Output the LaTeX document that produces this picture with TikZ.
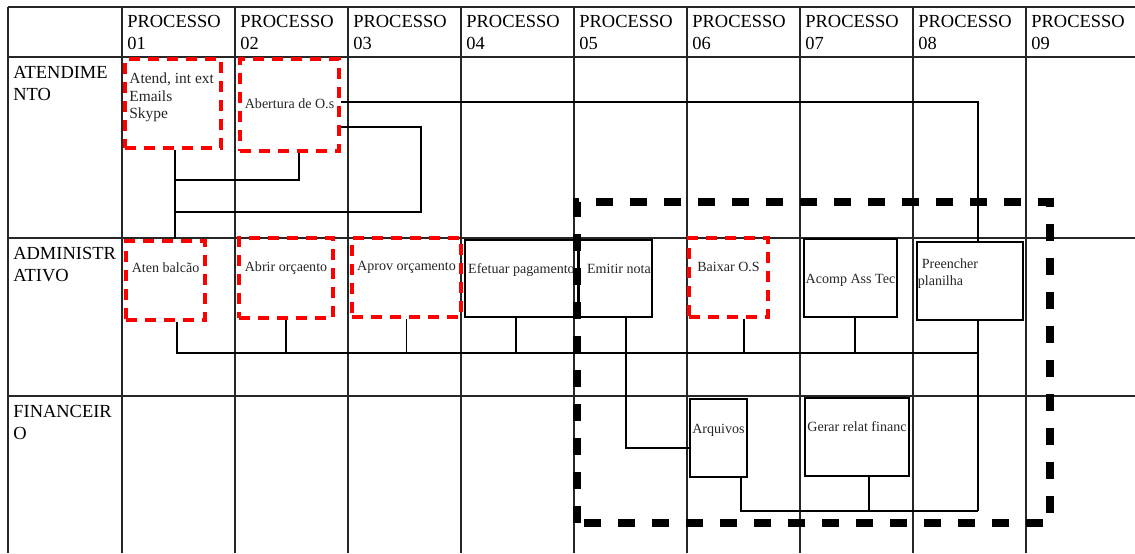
\documentclass[tikz,border=0pt]{standalone}
\usepackage{fontspec}
\setmainfont{Liberation Serif}
\usetikzlibrary{positioning}

\begin{document}
\begin{tikzpicture}[font=\rmfamily]

% ---- Define Styles ----
\tikzset{
  tabline/.style={draw=black!85, line width=0.6pt},
  header/.style={
    anchor=north west, align=left, inner sep=0pt,
    font=\fontsize{10.5}{12.5}\selectfont
  },
  redbox/.style={
    draw=red, line width=2.3pt, dash pattern=on 0.22cm off 0.16cm,
    anchor=south west, inner sep=0pt
  },
  plainbox/.style={
    draw=black, line width=1.1pt, anchor=south west, inner sep=0pt
  },
  boxtext/.style={
    font=\fontsize{8}{10}\selectfont, inner sep=0pt,
    text height=0.2cm, text depth=0cm, text=black!85
  },
  conn/.style={draw=black, line width=0.8pt},
  groupline/.style={draw=black, line width=4.4pt, dash pattern=on 0.34cm off 0.34cm}
}

\useasboundingbox (0,0) rectangle (22.7,11.06);

% =========================================================
% TABLE: header row + three lanes
% Columns 2.26 cm wide, starting at x = 2.44
% =========================================================
\draw[tabline]
  (0.16,10.92) -- (22.7,10.92)
  (0.16,9.92) -- (22.7,9.92)
  (0.16,6.30) -- (22.7,6.30)
  (0.16,3.14) -- (22.7,3.14)
  (0.16,10.92) -- (0.16,0)
  (2.44,10.92) -- (2.44,0)
  (4.70,10.92) -- (4.70,0)
  (6.96,10.92) -- (6.96,0)
  (9.22,10.92) -- (9.22,0)
  (11.48,10.92) -- (11.48,0)
  (13.74,10.92) -- (13.74,0)
  (16.00,10.92) -- (16.00,0)
  (18.26,10.92) -- (18.26,0)
  (20.52,10.92) -- (20.52,0);

\node[header] (p01) at (2.54, 10.76) {PROCESSO\\01};
\node[header] (p02) at (4.80, 10.76) {PROCESSO\\02};
\node[header] (p03) at (7.06, 10.76) {PROCESSO\\03};
\node[header] (p04) at (9.32, 10.76) {PROCESSO\\04};
\node[header] (p05) at (11.58, 10.76) {PROCESSO\\05};
\node[header] (p06) at (13.84, 10.76) {PROCESSO\\06};
\node[header] (p07) at (16.10, 10.76) {PROCESSO\\07};
\node[header] (p08) at (18.36, 10.76) {PROCESSO\\08};
\node[header] (p09) at (20.62, 10.76) {PROCESSO\\09};

\node[header] (laneat) at (0.26, 9.74) {ATENDIME\\NTO};
\node[header] (lanead) at (0.26, 6.12) {ADMINISTR\\ATIVO};
\node[header] (lanefi) at (0.26, 2.96) {FINANCEIR\\O};

% =========================================================
% ATENDIMENTO lane
% =========================================================
\node[redbox, minimum width=1.92cm, minimum height=1.78cm] (atend) at (2.46, 8.06) {};
\node[redbox, minimum width=1.98cm, minimum height=1.84cm] (abert) at (4.76, 8.00) {};

\node[below right=0.31cm and 0.12cm of atend.north west, anchor=north west, align=left,
      inner sep=0pt, font=\fontsize{8.8}{10}\selectfont, text=black!85] (atendtxt) {Atend, int ext\\Emails\\Skype};
\node[boxtext, below=0.82cm of abert.north] (aberttxt) {Abertura de O.s};

% =========================================================
% ADMINISTRATIVO lane
% =========================================================
\node[redbox, minimum width=1.58cm, minimum height=1.58cm] (atenb) at (2.48, 4.62) {};
\node[redbox, minimum width=1.88cm, minimum height=1.60cm] (abrir) at (4.74, 4.66) {};
\node[redbox, minimum width=2.18cm, minimum height=1.58cm] (aprov) at (7.00, 4.68) {};
\node[plainbox, minimum width=2.26cm, minimum height=1.54cm] (efet) at (9.28, 4.70) {};
\node[plainbox, minimum width=1.46cm, minimum height=1.54cm] (emit) at (11.56, 4.70) {};
\node[redbox, minimum width=1.58cm, minimum height=1.58cm] (baix) at (13.74, 4.68) {};
\node[plainbox, minimum width=1.86cm, minimum height=1.56cm] (acomp) at (16.06, 4.70) {};
\node[plainbox, minimum width=2.12cm, minimum height=1.56cm] (preen) at (18.32, 4.64) {};

\node[boxtext, below=0.46cm of atenb.north] (atenbtxt) {Aten balcão};
\node[boxtext, below=0.50cm of abrir.north] (abrirtxt) {Abrir orçaento};
\node[boxtext, below=0.48cm of aprov.north] (aprovtxt) {Aprov orçamento};
\node[boxtext, below=0.48cm of efet.north] (efettxt) {Efetuar pagamento};
\node[boxtext, below=0.48cm of emit.north, xshift=0.07cm] (emittxt) {Emitir nota};
\node[boxtext, below=0.50cm of baix.north] (baixtxt) {Baixar O.S};
\node[boxtext, below=0.70cm of acomp.north] (acomptxt) {Acomp Ass Tec};
\node[below right=0.34cm and 0.03cm of preen.north west, anchor=north west, align=left,
      inner sep=0pt, font=\fontsize{8}{9.6}\selectfont, text=black!85] (preentxt) {\hspace*{0.08cm}Preencher\\planilha};

% =========================================================
% FINANCEIRO lane
% =========================================================
\node[plainbox, minimum width=1.14cm, minimum height=1.56cm] (arq) at (13.78, 1.50) {};
\node[plainbox, minimum width=2.08cm, minimum height=1.56cm] (gerar) at (16.08, 1.52) {};

\node[boxtext, below=0.50cm of arq.north] (arqtxt) {Arquivos};
\node[boxtext, below=0.48cm of gerar.north] (gerartxt) {Gerar relat financ};

% =========================================================
% CONNECTORS
% Drop points sit a little off the box centres, as in the sketch
% =========================================================
\coordinate (busadm) at (0, 4.00);
\coordinate (busfin) at (0, 0.84);
\coordinate (atendd) at ([xshift=0.04cm]atend.south);
\coordinate (abertd) at ([xshift=0.19cm]abert.south);
\coordinate (atenbd) at ([xshift=0.23cm]atenb.south);
\coordinate (efetd)  at ([xshift=-0.11cm]efet.south);
\coordinate (emitd)  at ([xshift=0.21cm]emit.south);
\coordinate (baixd)  at ([xshift=0.31cm]baix.south);
\coordinate (acompd) at ([xshift=0.09cm]acomp.south);
\coordinate (preenu) at ([xshift=0.16cm]preen.north);
\coordinate (preend) at ([xshift=0.16cm]preen.south);
\coordinate (arqd)   at ([xshift=0.45cm]arq.south);
\coordinate (gerard) at ([xshift=0.24cm]gerar.south);

% atendimento
\draw[conn] (atendd) -- (atendd |- atenb.north);
\draw[conn] (abertd) -- ++(0,-0.54) -| (atendd);
\draw[conn] ([yshift=-0.44cm]abert.east) -- ++(1.6,0) |- ([yshift=-1.24cm]atendd);
\draw[conn] ([yshift=0.06cm]abert.east) -| (preenu);

% administrativo
\draw[conn] (atenbd) |- (preend |- busadm);
\draw[conn] (abrir.south) -- (abrir.south |- busadm);
\draw[conn] (aprov.south) -- (aprov.south |- busadm);
\draw[conn] (efetd) -- (efetd |- busadm);
\draw[conn] (emitd) |- ([yshift=-0.2cm]arq.west);
\draw[conn] (baixd) -- (baixd |- busadm);
\draw[conn] (acompd) -- (acompd |- busadm);

% financeiro
\draw[conn] (preend) -- (preend |- busfin);
\draw[conn] (arqd) |- (preend |- busfin);
\draw[conn] (gerard) -- (gerard |- busfin);

% =========================================================
% GROUP: thick black dashed frame
% =========================================================
\draw[groupline] (11.54,0.60) rectangle (21.0,7.02);

\end{tikzpicture}
\end{document}
